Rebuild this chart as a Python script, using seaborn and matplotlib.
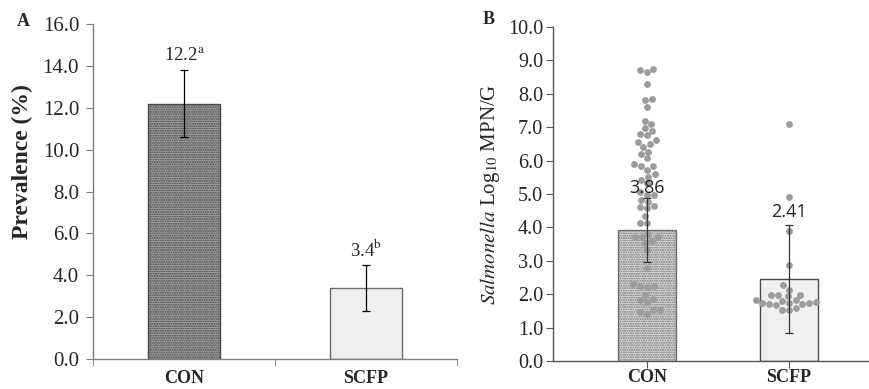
"""Salmonella prevalence (A) and concentration (B) in CON vs SCFP groups."""
import matplotlib
matplotlib.use("Agg")
import matplotlib.pyplot as plt
import pandas as pd
import seaborn as sns

# ---- data -------------------------------------------------------------
groups = ["CON", "SCFP"]

prev_mean = [12.2, 3.4]
prev_low = [10.6, 2.3]
prev_high = [13.8, 4.5]
prev_labels = ["12.2$^{\\mathrm{a}}$", "3.4$^{\\mathrm{b}}$"]

conc_mean = [3.92, 2.44]
conc_low = [2.95, 0.83]
conc_high = [4.87, 4.07]
conc_labels = ["3.86", "2.41"]

con_points = [
    8.64, 8.70, 8.74, 8.29, 7.85, 7.80, 7.60, 7.19, 7.10, 6.97, 6.90, 6.80,
    6.77, 6.62, 6.57, 6.50, 6.42, 6.27, 6.20, 6.07, 5.90, 5.84, 5.84, 5.72,
    5.59, 5.52, 5.42, 5.32, 5.05, 4.97, 4.97, 4.82, 4.77, 4.64, 4.60, 4.57,
    4.34, 4.14, 4.14, 3.80, 3.70, 3.70, 3.70, 3.60, 3.52, 3.32, 2.77, 2.30,
    2.26, 2.24, 2.22, 1.97, 1.87, 1.82, 1.77, 1.52, 1.52, 1.47, 1.42,
]
scfp_points = [
    7.10, 4.92, 3.90, 2.87, 2.27, 2.14, 1.94, 1.70, 1.80, 1.74, 1.52, 1.97,
    1.82, 1.67, 1.97, 1.84, 1.70, 1.54, 1.97, 1.77, 1.60, 1.74, 1.74,
]

# ---- style ------------------------------------------------------------
sns.set_style("white")
plt.rcParams["font.family"] = ["Liberation Serif", "DejaVu Serif"]
plt.rcParams["mathtext.fontset"] = "stix"

fig = plt.figure(figsize=(8.7, 3.89), dpi=100)
ax_a = fig.add_axes([0.1069, 0.0771, 0.4184, 0.8612])
ax_b = fig.add_axes([0.6356, 0.0720, 0.3644, 0.8586])

# ---- panel A ------------------------------------------------------------
sns.barplot(x=groups, y=prev_mean, ax=ax_a, width=0.4, errorbar=None,
            order=groups)
a_styles = [("#a4a4a4", "#4a4a4a", "......."), ("#efefef", "#6a6a6a", None)]
for patch, (fc, ec, hatch) in zip(ax_a.patches, a_styles):
    patch.set_facecolor(fc)
    patch.set_edgecolor(ec)
    patch.set_linewidth(1.0)
    if hatch:
        patch.set_hatch(hatch)

ax_a.errorbar(
    [0, 1], prev_mean,
    yerr=[[m - lo for m, lo in zip(prev_mean, prev_low)],
          [hi - m for m, hi in zip(prev_mean, prev_high)]],
    fmt="none", ecolor="black", elinewidth=0.9, capsize=3, capthick=0.9,
)
for i, (hi, lab) in enumerate(zip(prev_high, prev_labels)):
    ax_a.text(i, hi + 0.25, lab, ha="center", va="bottom", fontsize=13.5)

ax_a.set_ylim(0, 16)
ax_a.set_xlim(-0.5, 1.5)
ax_a.set_yticks(range(0, 17, 2))
ax_a.set_yticklabels([f"{v:.1f}" for v in range(0, 17, 2)], fontsize=15)
ax_a.set_xticks([0, 1])
ax_a.set_xticklabels(groups, fontsize=13, fontweight="bold")
ax_a.set_xticks([-0.5, 0.5, 1.5], minor=True)
ax_a.tick_params(axis="x", which="major", length=0, pad=8)
ax_a.tick_params(axis="x", which="minor", length=5, color="#7f7f7f",
                 direction="out", bottom=True)
ax_a.tick_params(axis="y", length=5, color="#7f7f7f", direction="out",
                 left=True, pad=5)
ax_a.set_ylabel("Prevalence (%)", fontsize=17, fontweight="bold")
ax_a.yaxis.set_label_coords(-0.165, 0.59)
for side in ["top", "right"]:
    ax_a.spines[side].set_visible(False)
for side in ["left", "bottom"]:
    ax_a.spines[side].set_color("#7f7f7f")
    ax_a.spines[side].set_linewidth(1.0)
ax_a.patch.set_alpha(0)

# ---- panel B ------------------------------------------------------------
points = pd.DataFrame({
    "group": ["CON"] * len(con_points) + ["SCFP"] * len(scfp_points),
    "value": con_points + scfp_points,
})
sns.barplot(x=groups, y=conc_mean, ax=ax_b, width=0.41, errorbar=None,
            order=groups)
b_styles = [("#e2e2e2", "#707070", "......."), ("#f0f0f0", "#4a4a4a", None)]
for patch, (fc, ec, hatch) in zip(ax_b.patches, b_styles):
    patch.set_facecolor(fc)
    patch.set_edgecolor(ec)
    patch.set_linewidth(1.0)
    if hatch:
        patch.set_hatch(hatch)

sns.swarmplot(data=points, x="group", y="value", order=groups, ax=ax_b,
              color="#9c9c9c", size=4.9, linewidth=0, zorder=6)

ax_b.errorbar(
    [0, 1], conc_mean,
    yerr=[[m - lo for m, lo in zip(conc_mean, conc_low)],
          [hi - m for m, hi in zip(conc_mean, conc_high)]],
    fmt="none", ecolor="#333333", elinewidth=0.9, capsize=3, capthick=0.9,
    zorder=7,
)
for i, (hi, lab, off) in enumerate(zip(conc_high, conc_labels, [0.05, 0.12])):
    ax_b.text(i, hi + off, lab, ha="center", va="bottom", fontsize=13,
              family=["Open Sans", "DejaVu Sans"], color="#222222", zorder=8)

ax_b.set_ylim(0, 10)
ax_b.set_xlim(-0.66, 1.57)
ax_b.set_yticks(range(0, 11))
ax_b.set_yticklabels([f"{v:.1f}" for v in range(0, 11)], fontsize=14.5)
ax_b.set_xticks([0, 1])
ax_b.set_xticklabels(groups, fontsize=13, fontweight="bold")
ax_b.tick_params(axis="x", length=5, color="#555555", direction="out",
                 bottom=True, pad=1)
ax_b.tick_params(axis="y", length=5, color="#555555", direction="out",
                 left=True, pad=2)
ax_b.set_xlabel("")
ax_b.set_ylabel(r"$\mathit{Salmonella}$ Log$_{10}$ MPN/G", fontsize=15,
                labelpad=4)
for side in ["top", "right"]:
    ax_b.spines[side].set_visible(False)
for side in ["left", "bottom"]:
    ax_b.spines[side].set_color("#555555")
    ax_b.spines[side].set_linewidth(1.0)
ax_b.patch.set_alpha(0)

# ---- panel letters ------------------------------------------------------
fig.text(17 / 870, 1 - 22 / 389, "A", fontsize=13, fontweight="bold",
         ha="left", va="center")
fig.text(483 / 870, 1 - 20 / 389, "B", fontsize=13, fontweight="bold",
         ha="left", va="center")

fig.savefig("out.png", dpi=100)
